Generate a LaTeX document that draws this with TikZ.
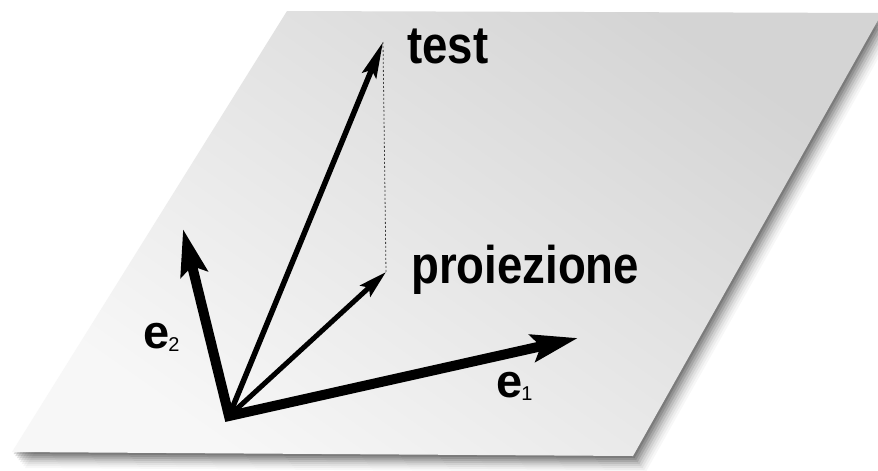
\documentclass[tikz,border=0pt]{standalone}
\usepackage{fontspec}
\setmainfont{Liberation Sans}
\usetikzlibrary{arrows.meta}
\begin{document}
\begin{tikzpicture}[x=1pt,y=-1pt,
  lbl/.style={anchor=base west, inner sep=0pt, font=\bfseries\fontsize{53}{53}\selectfont},
  elbl/.style={anchor=base west, inner sep=0pt, font=\bfseries\fontsize{47}{47}\selectfont},
  thickvec/.style={line width=10pt, line join=miter, miter limit=10,
    {Stealth[length=46pt,width=27pt,inset=8pt]}-{Stealth[length=46pt,width=27pt,inset=8pt]}},
  testvec/.style={line width=5.5pt, -{Stealth[length=36pt,width=15pt,inset=6pt]}},
  projvec/.style={line width=5pt, -{Stealth[length=28pt,width=15pt,inset=5pt]}},
  dropline/.style={line width=0.8pt, dash pattern=on 2pt off 2pt, black!75},
]
\useasboundingbox (0,0) rectangle (878,471);
\fill[white] (0,0) rectangle (878,471);
% plane corners
\coordinate (A) at (287,11);
\coordinate (B) at (882,13);
\coordinate (C) at (633,456);
\coordinate (D) at (12,452);
% soft shadow
\foreach \d/\o in {2/0.14,4/0.13,6/0.11,8/0.09,10/0.07,12/0.05,14/0.04,16/0.03}{
  \fill[black,opacity=\o] ([shift={(0.8*\d,\d)}]A) -- ([shift={(0.8*\d,\d)}]B) -- ([shift={(0.8*\d,\d)}]C) -- ([shift={(0.8*\d,\d)}]D) -- cycle;
}
% plane
\shade[top color=black!17, bottom color=black!3, shading angle=-35] (A) -- (B) -- (C) -- (D) -- cycle;
% vectors
\coordinate (O) at (229,416);
\coordinate (E1) at (578,338);
\coordinate (E2) at (183,229);
\coordinate (T) at (383,42);
\coordinate (P) at (386,272);
\draw[dropline] (T) -- (P);
\draw[testvec] (O) -- (T);
\draw[projvec] (O) -- (P);
\draw[thickvec] (E2) -- (O) -- (E1);
% labels
\node[lbl] (lt) at (407,63) {\scalebox{0.86}[1]{test}};
\node[lbl] (lp) at (411,283) {\scalebox{0.86}[1]{proiezione}};
\node[elbl] (le2) at (143,348) {e\kern-1pt\raisebox{-3pt}{\mdseries\fontsize{20}{20}\selectfont 2}};
\node[elbl] (le1) at (496,397) {e\kern-1pt\raisebox{-3pt}{\mdseries\fontsize{20}{20}\selectfont 1}};
\end{tikzpicture}
\end{document}
